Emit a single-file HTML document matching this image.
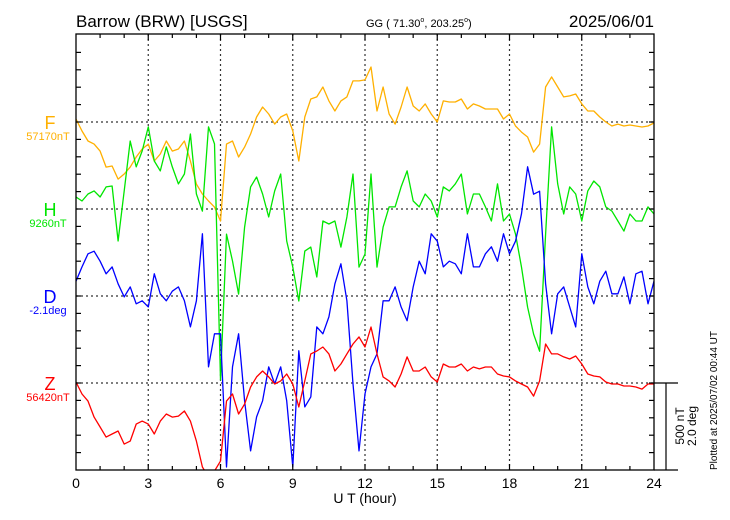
<!DOCTYPE html>
<html><head><meta charset="utf-8"><style>
html,body{margin:0;padding:0;background:#fff;}
svg{display:block;font-family:"Liberation Sans",sans-serif;}
</style></head><body>
<svg id="chart" width="730" height="520" viewBox="0 0 730 520" xmlns="http://www.w3.org/2000/svg">
<defs><clipPath id="plotclip"><rect x="76" y="34" width="578" height="436"/></clipPath></defs>
<text x="76" y="27" font-size="17">Barrow (BRW)  [USGS]</text>
<text x="366" y="27" font-size="11">GG ( 71.30<tspan dy="-5" font-size="7">o</tspan><tspan dy="5">, 203.25</tspan><tspan dy="-5" font-size="7">o</tspan><tspan dy="5">)</tspan></text>
<text x="654" y="27" font-size="17" text-anchor="end">2025/06/01</text>
<g id="grid"></g>
<g id="series" clip-path="url(#plotclip)"></g>
<g id="axes"></g>
<text x="365" y="503" font-size="14" text-anchor="middle">U T (hour)</text>
<text transform="translate(684,426) rotate(-90)" font-size="12" text-anchor="middle">500 nT</text>
<text transform="translate(696,426) rotate(-90)" font-size="12" text-anchor="middle">2.0 deg</text>
<text transform="translate(717,470) rotate(-90)" font-size="10">Plotted at 2025/07/02 00:44 UT</text>
</svg>
<script>
const hours = [];
for (let i = 0; i <= 96; i++) hours.push(i * 0.25);
const xTickLabels = ["0","3","6","9","12","15","18","21","24"];
const seriesNames = ["F","H","D","Z"];
const baselineLabels = ["57170nT","9260nT","-2.1deg","56420nT"];
const fValues = [17,-52,-109,-127,-167,-259,-253,-328,-299,-259,-201,-155,-127,-224,-184,-109,-167,-155,-109,-224,-357,-414,-454,-489,-569,-127,-109,-201,-144,-69,29,86,46,-12,29,46,-52,-224,29,132,144,201,121,63,121,144,236,236,242,316,63,201,46,-12,86,201,92,63,104,46,0,121,115,115,132,75,104,92,75,75,75,17,46,-23,-58,-86,-173,-127,201,259,201,144,150,161,104,63,63,29,0,-23,-12,-23,-17,-23,-29,-23,-6];
const hValues = [69,46,86,104,69,127,132,-184,104,391,242,334,472,276,219,357,242,144,201,431,86,-12,472,374,-983,-144,-299,-489,-104,127,184,86,-46,104,201,-184,-334,-529,-242,-219,-391,-69,-86,-69,-219,-46,201,-334,-259,201,-334,-104,12,12,127,219,46,12,86,46,-46,127,104,144,201,-29,86,86,12,-69,144,-69,-29,-144,-334,-564,-719,-817,-144,472,144,-29,127,86,-69,104,161,127,12,-12,-69,-127,-29,-69,-69,12,-29];
const dValues = [.34,.67,.97,1.03,.80,.51,.67,.28,-.02,.21,-.18,-.11,-.25,.51,.05,-.11,.11,.21,-.11,-.71,-.11,1.43,-1.63,-.87,-.87,-3.93,-1.63,-.87,-2.41,-3.56,-2.78,-2.41,-1.63,-2.02,-1.63,-2.41,-3.93,-1.26,-2.55,-2.32,-.71,-.87,-.48,.28,.74,-.11,-2.02,-3.56,-2.25,-1.63,-1.33,-.11,-.11,.21,-.25,-.57,.21,.80,.51,1.43,1.26,.67,.80,.74,.51,1.43,.67,.67,.97,1.13,.80,1.43,.97,1.26,1.89,2.97,2.34,2.41,.28,-.87,.05,.21,-.25,-.71,.97,.21,-.18,.34,.57,.05,.05,.44,-.18,.51,.57,-.18,.34];
const zValues = [6,-63,-104,-196,-253,-311,-293,-276,-351,-334,-236,-219,-236,-293,-219,-178,-196,-190,-161,-219,-334,-483,-541,-506,-449,-104,-63,-178,-121,-23,35,69,35,-6,12,52,-6,-138,12,167,184,207,167,69,109,167,224,265,207,322,167,35,12,-23,52,150,69,69,92,35,6,109,92,92,109,69,92,81,92,92,52,40,35,12,-6,-23,-75,12,224,167,167,150,138,155,109,52,40,35,6,-6,-6,-17,-17,-23,-35,-6,-6];

const NS = "http://www.w3.org/2000/svg";
const X0 = 76, X1 = 654, Y0 = 34, Y1 = 470;
const xScale = h => X0 + (h / 24) * (X1 - X0);
const PX_PER_NT = 87 / 500, PX_PER_DEG = 87 / 2.0;
const baseY = [122, 209, 296, 383];
const colors = ["#FFB000", "#00E600", "#0000FF", "#FF0000"];
function mk(tag, attrs, parent) {
  const el = document.createElementNS(NS, tag);
  for (const k in attrs) el.setAttribute(k, attrs[k]);
  parent.appendChild(el);
  return el;
}
const grid = document.getElementById('grid');
const axes = document.getElementById('axes');
const series = document.getElementById('series');

// grid lines
for (let i = 1; i < xTickLabels.length - 1; i++) {
  const x = xScale(Number(xTickLabels[i]));
  const l = mk('line', {x1: x, x2: x, y1: Y0, y2: Y1, stroke: '#333', 'stroke-width': 1.2, 'stroke-dasharray': '2,3'}, grid);
  
  
}
baseY.forEach((y) => {
  const l = mk('line', {x1: X0, x2: X1, y1: y, y2: y, stroke: '#333', 'stroke-width': 1.2, 'stroke-dasharray': '2,3'}, grid);
  
  
});

// series
const allVals = [fValues, hValues, dValues, zValues];
allVals.forEach((vals, si) => {
  const k = si === 2 ? PX_PER_DEG : PX_PER_NT;
  const pts = vals.map((v, i) => xScale(hours[i]).toFixed(1) + ',' + (baseY[si] - v * k).toFixed(1)).join(' ');
  const p = mk('polyline', {points: pts, fill: 'none', stroke: colors[si], 'stroke-width': 1.3, 'stroke-linejoin': 'round'}, series);
  
  
  const t = mk('text', {x: 50, y: baseY[si] + 7, 'font-size': 18, fill: colors[si], 'text-anchor': 'middle'}, axes);
  t.textContent = seriesNames[si];
  
  
  const b = mk('text', {x: 48, y: baseY[si] + 18, 'font-size': 11, fill: colors[si], 'text-anchor': 'middle'}, axes);
  b.textContent = baselineLabels[si];
  
  
});

// frame
const fr = mk('rect', {x: X0, y: Y0, width: X1 - X0, height: Y1 - Y0, fill: 'none', stroke: '#000', 'stroke-width': 1.3}, axes);


// ticks
for (let h = 1; h < 24; h++) {
  const x = xScale(h);
  const len = h % 3 === 0 ? 6 : 4;
  mk('line', {x1: x, x2: x, y1: Y1, y2: Y1 - len, stroke: '#000', 'stroke-width': 1.2}, axes);
  mk('line', {x1: x, x2: x, y1: Y0, y2: Y0 + len, stroke: '#000', 'stroke-width': 1.2}, axes);
}
for (let k = -20; k <= 5; k++) {
  const y = 383 + k * 17.4;
  if (y <= Y0 + 2 || y >= Y1 - 1) continue;
  mk('line', {x1: X0, x2: X0 + 5, y1: y, y2: y, stroke: '#000', 'stroke-width': 1.2}, axes);
  mk('line', {x1: X1, x2: X1 - 5, y1: y, y2: y, stroke: '#000', 'stroke-width': 1.2}, axes);
}
xTickLabels.forEach((lab) => {
  const t = mk('text', {x: xScale(Number(lab)), y: 488, 'font-size': 14, 'text-anchor': 'middle'}, axes);
  t.textContent = lab;
  
  
});
// scale bar
mk('line', {x1: X1, x2: 678, y1: 383, y2: 383, stroke: '#000', 'stroke-width': 1.2}, axes);
mk('line', {x1: X1, x2: 678, y1: Y1, y2: Y1, stroke: '#000', 'stroke-width': 1.2}, axes);
const sb = mk('line', {x1: 666, x2: 666, y1: 383, y2: Y1, stroke: '#000', 'stroke-width': 1.2}, axes);


</script>
</body></html>
